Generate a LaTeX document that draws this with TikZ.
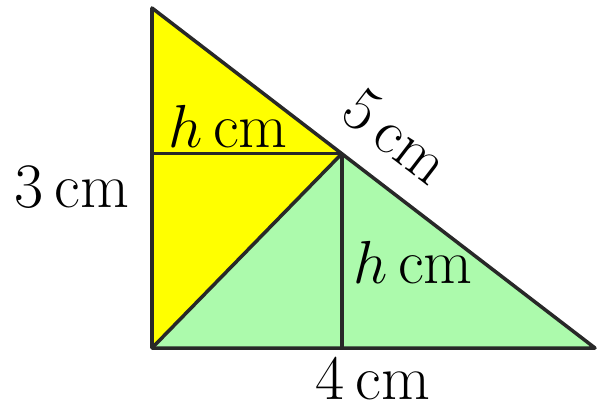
\documentclass[tikz,border=0pt]{standalone}
\definecolor{yel}{RGB}{255,255,0}
\definecolor{grn}{RGB}{172,250,172}
\definecolor{edge}{RGB}{40,40,40}
\begin{document}
\begin{tikzpicture}[x=0.01cm,y=-0.01cm,
  lbl/.style={font=\fontsize{18}{21}\selectfont, inner sep=0pt, anchor=base},
  edg/.style={draw=edge, line width=1pt, line join=round}]
\useasboundingbox (0,0) rectangle (597,408);
\coordinate (A) at (152,8);
\coordinate (B) at (152,348);
\coordinate (C) at (595,348);
\coordinate (P) at (341.8,153.7);
\coordinate (Q) at (152,153.7);
\coordinate (R) at (341.8,348);
\fill[yel] (A) -- (B) -- (P) -- cycle;
\fill[grn] (B) -- (P) -- (C) -- cycle;
\draw[edg] (A) -- (B) -- (C) -- cycle;
\draw[edg] (Q) -- (P) -- (R);
\draw[edg] (B) -- (P);
\node[lbl] (l3) at (72,207) {3\,cm};
\node[lbl] (l4) at (373,399) {4\,cm};
\node[lbl] (lh1) at (228,147) {$h$\,cm};
\node[lbl] (lh2) at (413,283) {$h$\,cm};
\node[lbl, anchor=center, rotate=-37.5] (l5) at (396,136) {5\,cm};
\end{tikzpicture}
\end{document}
